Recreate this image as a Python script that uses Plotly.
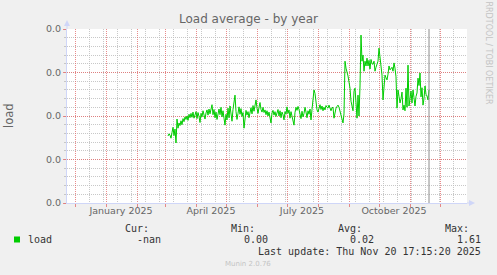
import pandas as pd
import plotly.graph_objects as go

# ---------------- data ----------------
start_date = "2025-03-04"
now_date = "2025-11-20"
load_milli = [
    15.4, 15.9, 15.6, 14.9, 16.2, 17.4, 15.5, 17.0, 13.8, 19.3,
    17.2, 18.4, 17.8, 18.9, 18.0, 19.4, 18.7, 19.8, 19.2, 20.0,
    19.0, 20.4, 19.6, 20.6, 19.7, 20.9, 19.5, 20.3, 21.0, 19.4,
    20.8, 19.9, 18.5, 20.6, 19.8, 21.2, 20.0, 19.3, 20.7, 21.4,
    20.2, 21.6, 20.5, 21.8, 22.6, 20.3, 21.5, 19.6, 20.9, 19.2,
    20.5, 21.6, 20.3, 22.0, 19.8, 21.2, 19.5, 17.9, 20.4, 19.1,
    21.8, 19.6, 22.3, 20.1, 18.8, 21.5, 22.8, 24.8, 21.0, 19.2,
    20.6, 22.1, 20.4, 21.7, 19.9, 20.8, 17.2, 19.8, 21.3, 20.2,
    21.0, 19.6, 20.7, 21.9, 20.5, 22.4, 21.1, 22.6, 23.7, 21.8,
    20.6, 22.0, 23.1, 21.5, 20.9, 22.0, 20.8, 21.4, 20.3, 21.2,
    20.0, 20.9, 19.8, 18.4, 20.7, 21.3, 20.2, 21.0, 19.9, 20.8,
    21.5, 20.0, 21.2, 19.6, 20.9, 20.3, 19.1, 21.0, 20.4, 22.1,
    20.6, 21.4, 19.5, 21.0, 20.1, 18.9, 17.9, 20.8, 22.0, 21.3,
    22.2, 21.5, 20.4, 19.4, 21.1, 19.8, 20.6, 22.0, 20.9, 19.6,
    21.2, 20.4, 21.6, 19.1, 21.5, 23.8, 26.0, 25.2, 22.5, 21.4,
    20.9, 21.8, 22.6, 21.5, 22.3, 21.2, 22.0, 21.4, 22.4, 22.0,
    21.8, 22.5, 21.6, 21.2, 21.9, 22.0, 19.5, 21.3, 21.8, 22.2,
    22.5, 22.0, 21.0, 20.3, 19.4, 18.4, 20.5, 32.6, 31.0, 30.3,
    29.2, 27.8, 26.4, 23.4, 22.0, 21.2, 25.7, 26.4, 23.0, 19.5,
    24.8, 20.0, 26.9, 38.6, 32.6, 34.0, 30.3, 32.6, 31.5, 33.3,
    31.5, 32.8, 30.8, 33.0, 32.0, 31.9, 32.6, 30.3, 31.2, 31.9,
    32.6, 35.6, 33.0, 31.0, 29.4, 23.7, 27.0, 29.4, 28.8, 28.3,
    29.6, 31.5, 30.6, 30.8, 31.2, 30.3, 32.2, 31.0, 29.0, 21.8,
    26.0, 24.5, 23.0, 24.0, 25.5, 21.4, 22.5, 21.2, 26.4, 22.0,
    31.7, 22.3, 24.8, 25.7, 23.0, 26.0, 24.2, 22.3, 24.5, 25.3,
    28.7, 27.0, 29.9, 24.4, 26.5, 22.5, 24.0, 26.9, 25.0, 24.6,
    23.7, 26.0,
]
x_range = ["2024-11-23", "2025-12-28"]
month_label_dates = ["2025-01-16", "2025-04-16", "2025-07-16", "2025-10-16"]
month_labels = ["January 2025", "April 2025", "July 2025", "October 2025"]
y_tickvals = [0.0, 0.01, 0.02, 0.03, 0.04]
y_ticktext = ["0.0", "0.0", "0.0", "0.0", "0.0"]
legend_name = "load"
stat_headers = ["Cur:", "Min:", "Avg:", "Max:"]
stat_values = ["-nan", "0.00", "0.02", "1.61"]
last_update = "Last update: Thu Nov 20 17:15:20 2025"
title_text = "Load average - by year"
side_text = "RRDTOOL / TOBI OETIKER"
footer_text = "Munin 2.0.76"

dates = pd.date_range(start_date, periods=len(load_milli), freq="D")
load_vals = [v / 1000.0 for v in load_milli]

# ---------------- style ----------------
W, H = 497, 275
L, R, T, B = 67, 30, 29, 72
PW, PH = W - L - R, H - T - B
FONT = "#666666"
AXIS = "#CFD6F8"
MAJ = "rgba(226,110,110,0.8)"
MIN = "rgba(190,190,190,0.85)"
DOT = "1px,1px"
GREEN = "#00CC00"


def px(x):
    return (x - L) / PW


def py(y):
    return (H - B - y) / PH


fig = go.Figure()
fig.add_trace(go.Scatter(x=dates, y=load_vals, mode="lines",
                         line=dict(color=GREEN, width=1), name=legend_name,
                         hoverinfo="skip", showlegend=False))
# invisible trace carrying the label axis
fig.add_trace(go.Scatter(x=month_label_dates, y=[0] * len(month_label_dates),
                         xaxis="x2", mode="lines", line=dict(width=0),
                         opacity=0, hoverinfo="skip", showlegend=False))

fig.update_layout(
    width=W, height=H,
    margin=dict(l=L, r=R, t=T, b=B, pad=0),
    paper_bgcolor="#F0F0F0", plot_bgcolor="#FFFFFF",
    font=dict(family="DejaVu Sans", color=FONT, size=10),
    xaxis=dict(
        type="date", range=x_range, tickmode="linear", tick0="2024-12-01",
        dtick="M1", showticklabels=False, showgrid=True, gridcolor=MAJ,
        griddash=DOT, gridwidth=1, ticks="outside", ticklen=3,
        tickcolor=MAJ, showline=True, linecolor=AXIS, linewidth=1,
        zeroline=False,
        minor=dict(dtick=14 * 86400000, tick0="2024-12-15", showgrid=True,
                   gridcolor=MIN, griddash=DOT, gridwidth=1, ticks=""),
    ),
    xaxis2=dict(
        type="date", range=x_range, overlaying="x", side="bottom",
        tickmode="array", tickvals=month_label_dates, ticktext=month_labels,
        showgrid=False, ticks="", showline=False, zeroline=False,
        tickfont=dict(family="DejaVu Sans", size=9.5, color=FONT),
    ),
    yaxis=dict(
        range=[0, 0.04], tickmode="array", tickvals=y_tickvals,
        ticktext=y_ticktext, showgrid=True, gridcolor=MAJ, griddash=DOT,
        gridwidth=1, ticks="outside", ticklen=3, tickcolor=MAJ,
        showline=True, linecolor=AXIS, linewidth=1, zeroline=False,
        tickfont=dict(family="DejaVu Sans", size=9.5, color=FONT),
        minor=dict(dtick=0.002, tick0=0, showgrid=True, gridcolor=MIN,
                   griddash=DOT, gridwidth=1, ticks="outside", ticklen=2,
                   tickcolor=MIN),
    ),
)

# "now" rule
fig.add_shape(type="line", xref="x", yref="paper", x0=now_date, x1=now_date,
              y0=0, y1=1, line=dict(color="#8C8C8C", width=1))

# axis arrows
fig.add_shape(type="line", xref="paper", yref="paper", x0=0, x1=0,
              y0=1, y1=py(24), line=dict(color=AXIS, width=1))
fig.add_shape(type="path", xref="paper", yref="paper",
              path=f"M {px(64)} {py(26)} L {px(70)} {py(26)} L {px(67)} {py(20)} Z",
              fillcolor=AXIS, line=dict(width=0))
fig.add_shape(type="line", xref="paper", yref="paper", x0=1, x1=px(470),
              y0=0, y1=0, line=dict(color=AXIS, width=1))
fig.add_shape(type="path", xref="paper", yref="paper",
              path=f"M {px(469)} {py(200)} L {px(469)} {py(206)} L {px(475)} {py(203)} Z",
              fillcolor=AXIS, line=dict(width=0))

# legend colour box
fig.add_shape(type="rect", xref="paper", yref="paper", x0=px(14), x1=px(20),
              y0=py(242.5), y1=py(236.5), fillcolor=GREEN, line=dict(width=0))

ann = []


def text(x, y, s, size=10, color=FONT, family="DejaVu Sans Mono",
         xanchor="left", angle=0):
    ann.append(dict(x=px(x), y=py(y), xref="paper", yref="paper", text=s,
                    showarrow=False, xanchor=xanchor, yanchor="middle",
                    textangle=angle,
                    font=dict(family=family, size=size, color=color)))


text(248.5, 18.5, title_text, size=12, family="DejaVu Sans", xanchor="center")
text(9, 116, legend_name, size=11.5, family="DejaVu Sans", xanchor="center",
     angle=-90)
text(488.5, 53, side_text, size=8, family="DejaVu Sans", color="#C4C4C4",
     xanchor="center", angle=90)

text(26, 239.5, legend_name, size=10, color="#333333")
header_right = [150.5, 257, 363.5, 470.5]
value_right = [162.5, 269.5, 376, 482.5]
for hx, hs in zip(header_right, stat_headers):
    text(hx, 228.5, hs, size=10, color="#333333", xanchor="right")
for vx, vs in zip(value_right, stat_values):
    text(vx, 239.5, vs, size=10, color="#333333", xanchor="right")
text(482.5, 251, last_update, size=10, color="#333333", xanchor="right")
text(248, 264, footer_text, size=7, family="DejaVu Sans", color="#C4C4C4",
     xanchor="center")

fig.update_layout(annotations=ann)
fig.write_html("out.html")
